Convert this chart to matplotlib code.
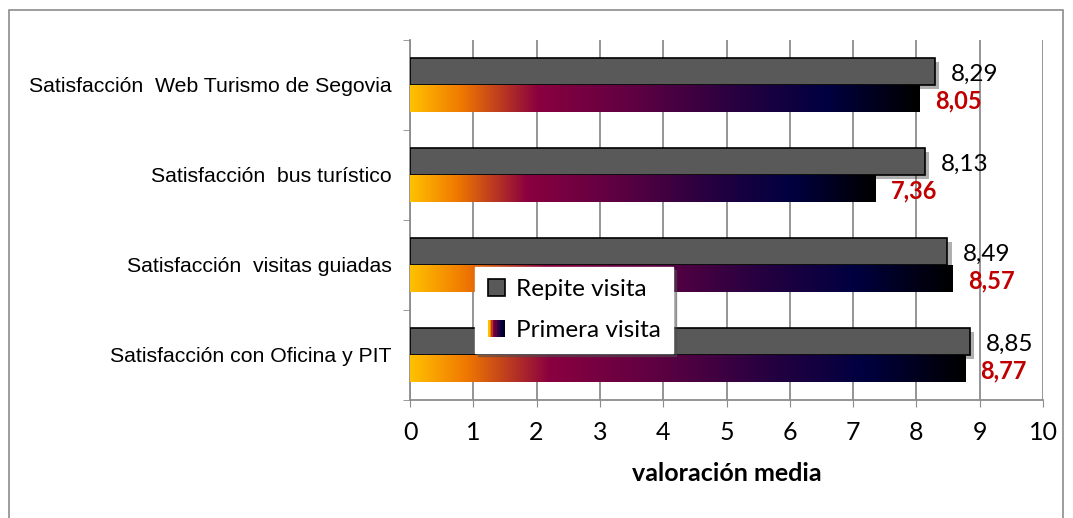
import matplotlib.pyplot as plt
import numpy as np
from matplotlib.colors import LinearSegmentedColormap
from matplotlib.patches import Rectangle
from matplotlib.legend_handler import HandlerBase
import matplotlib.patheffects as pe

categorias = ["Satisfacción  Web Turismo de Segovia",
              "Satisfacción  bus turístico",
              "Satisfacción  visitas guiadas",
              "Satisfacción con Oficina y PIT"]
repite = [8.29, 8.13, 8.49, 8.85]
primera = [8.05, 7.36, 8.57, 8.77]
xticks = [0, 1, 2, 3, 4, 5, 6, 7, 8, 9, 10]

grad = LinearSegmentedColormap.from_list("grad", [
    (0.0, "#ffc000"), (0.1, "#f07800"), (0.25, "#8a003f"),
    (0.45, "#5c0042"), (0.65, "#250040"), (0.82, "#000040"), (1.0, "#000000")])

fig = plt.figure(figsize=(10.73, 5.18), dpi=100)
fig.patches.append(Rectangle((9 / 1073, -0.05), 1054 / 1073, 1 - 10 / 518 + 0.05,
                             transform=fig.transFigure, fill=False,
                             edgecolor="#8c8c8c", lw=1.2))
ax = fig.add_axes([410 / 1073, 1 - 400 / 518, 633 / 1073, 360 / 518])

y = np.arange(len(categorias))
h = 0.3
sombra = [pe.SimplePatchShadow(offset=(3, -3), alpha=0.35), pe.Normal()]
ax.barh(y - h / 2, repite, height=h, color="#595959", edgecolor="black",
        lw=1.2, zorder=3, path_effects=sombra, label="Repite visita")

img = np.linspace(0, 1, 256).reshape(1, -1)
for yi, v in zip(y, primera):
    ax.imshow(img, cmap=grad, extent=[0, v, yi + h, yi], aspect="auto",
              zorder=3, interpolation="bilinear")

for yi, r, p in zip(y, repite, primera):
    ax.text(r + 0.25, yi - h / 2 + 0.03, f"{r:.2f}".replace(".", ","),
            va="center", ha="left", fontsize=17.5, family="Lato", zorder=5)
    ax.text(p + 0.24, yi + h / 2 + 0.03, f"{p:.2f}".replace(".", ","),
            va="center", ha="left", fontsize=17, family="Lato",
            fontweight="bold", color="#c00000", zorder=5)

ax.set_xlim(0, 10)
ax.set_ylim(len(categorias) - 0.5, -0.5)
ax.set_xticks(xticks)
ax.set_xticklabels([str(t) for t in xticks], family="Lato", fontsize=18)
ax.set_yticks(y)
ax.set_yticklabels(categorias, family="Liberation Sans", fontsize=15.3)
ax.set_yticks(np.arange(len(categorias) + 1) - 0.5, minor=True)
ax.tick_params(axis="y", which="major", length=0, pad=13)
ax.tick_params(axis="y", which="minor", length=5, color="#8c8c8c")
ax.tick_params(axis="x", length=5, color="#8c8c8c", pad=10)
ax.grid(axis="x", color="#8c8c8c", lw=1.3, zorder=0)
ax.set_axisbelow(True)
for s in ["top", "right"]:
    ax.spines[s].set_visible(False)
for s in ["left", "bottom"]:
    ax.spines[s].set_color("#8c8c8c")
    ax.spines[s].set_linewidth(1.3)
ax.set_xlabel("valoración media", family="Lato", fontsize=18,
              fontweight="bold", labelpad=13)


class HandlerGrad(HandlerBase):
    def create_artists(self, legend, orig, xd, yd, w, hh, fontsize, trans):
        n = 12
        s = hh
        x0 = xd + (w - s) / 2
        arts = []
        for i in range(n):
            arts.append(Rectangle((x0 + i * s / n, yd), s / n, s,
                                  facecolor=grad(i / (n - 1)), lw=0,
                                  transform=trans))
        return arts


class HandlerSq(HandlerBase):
    def create_artists(self, legend, orig, xd, yd, w, hh, fontsize, trans):
        s = hh
        x0 = xd + (w - s) / 2
        return [Rectangle((x0, yd), s, s, facecolor="#595959",
                          edgecolor="black", lw=1.2, transform=trans)]


grad_proxy = Rectangle((0, 0), 1, 1)
rep_proxy = Rectangle((0, 0), 1, 1)
leg = ax.legend([rep_proxy, grad_proxy], ["Repite visita", "Primera visita"],
                handler_map={grad_proxy: HandlerGrad(), rep_proxy: HandlerSq()},
                loc="upper left", bbox_to_anchor=(65 / 633, 1 - 227 / 360),
                prop={"family": "Lato", "size": 17.5}, frameon=True,
                fancybox=False, shadow=True, edgecolor="white",
                borderpad=0.5, labelspacing=0.8, handlelength=0.8,
                handletextpad=0.4, borderaxespad=0)
leg.set_zorder(6)

fig.savefig("out.png", dpi=100)
